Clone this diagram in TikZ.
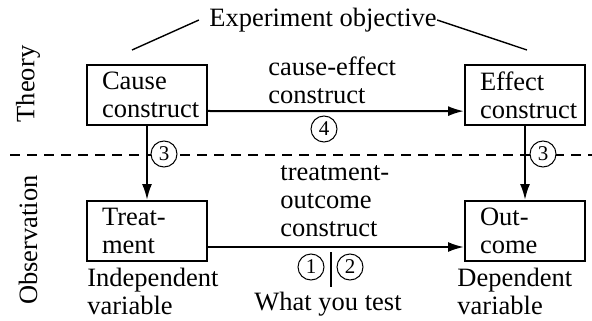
\documentclass[tikz,border=0pt]{standalone}
\usepackage{fontspec}
\setmainfont{Liberation Serif}
\usetikzlibrary{positioning,arrows.meta}
\tikzstyle{box}=[draw, line width=1pt, minimum width=60pt, minimum height=30pt, text width=45pt, inner xsep=7.5pt, align=left]
\tikzstyle{lbl}=[inner sep=0pt, align=left, anchor=west]
\tikzstyle{num}=[circle, draw, line width=0.5pt, fill=white, minimum size=13pt, inner sep=0pt, font=\fontsize{10.5}{10.5}\selectfont]
\tikzstyle{arr}=[line width=1pt, -{Latex[length=8pt,width=5pt]}]

\begin{document}
\begin{tikzpicture}[x=0.5pt, y=-0.5pt, font=\fontsize{13.25}{14}\selectfont]
    \useasboundingbox (0,0) rectangle (592,320);

    \node[box] (cause) at (147,95) {Cause\\\rlap{construct}};
    \node[box] (effect) at (525,95) {Effect\\\rlap{construct}};
    \node[box] (treat) at (147,231) {Treat-\\ment};
    \node[box] (outc) at (525,231) {Out-\\come};

    \node[rotate=90] (theory) at (28,84) {Theory};
    \node[rotate=90] (obs) at (28,240) {Observation};

    \node[inner sep=0pt] (obj) at (323,20) {Experiment objective};
    \coordinate (objl) at (132,50);
    \coordinate (objr) at (527,50);
    \draw[line width=0.7pt] ([xshift=-5pt]obj.west) -- (objl);
    \draw[line width=0.7pt] (obj.east) -- (objr);

    \coordinate (dl) at (10,155);
    \coordinate (dr) at (592,155);
    \draw[dash pattern=on 5pt off 3.5pt, line width=1pt] (dl) -- (dr);

    \draw[arr] ([yshift=7.5pt]cause.south east) -- ([yshift=7.5pt]effect.south west);
    \draw[arr] (cause.south) -- (treat.north);
    \draw[arr] (effect.south) -- (outc.north);
    \draw[arr] ([yshift=7.5pt]treat.south east) -- ([yshift=7.5pt]outc.south west);

    \node[lbl] (celbl) at (268,80) {cause-effect\\construct};
    \node[lbl] (tolbl) at (280,201) {treatment-\\outcome\\construct};
    \node[num] (n4) at (324,129) {4};
    \node[num] (n3l) at (164,154) {3};
    \node[num] (n3r) at (543,154) {3};
    \node[num] (n1) at (311,267) {1};
    \node[num] (n2) at (350,267) {2};
    \coordinate (sept) at (331,252);
    \coordinate (sepb) at (331,287);
    \draw[line width=1pt] (sept) -- (sepb);

    \node[lbl] (indep) at (87,291) {Independent\\variable};
    \node[lbl] (dep) at (457,291) {Dependent\\variable};
    \node (what) at (328,304) {What you test};

\end{tikzpicture}
\end{document}
